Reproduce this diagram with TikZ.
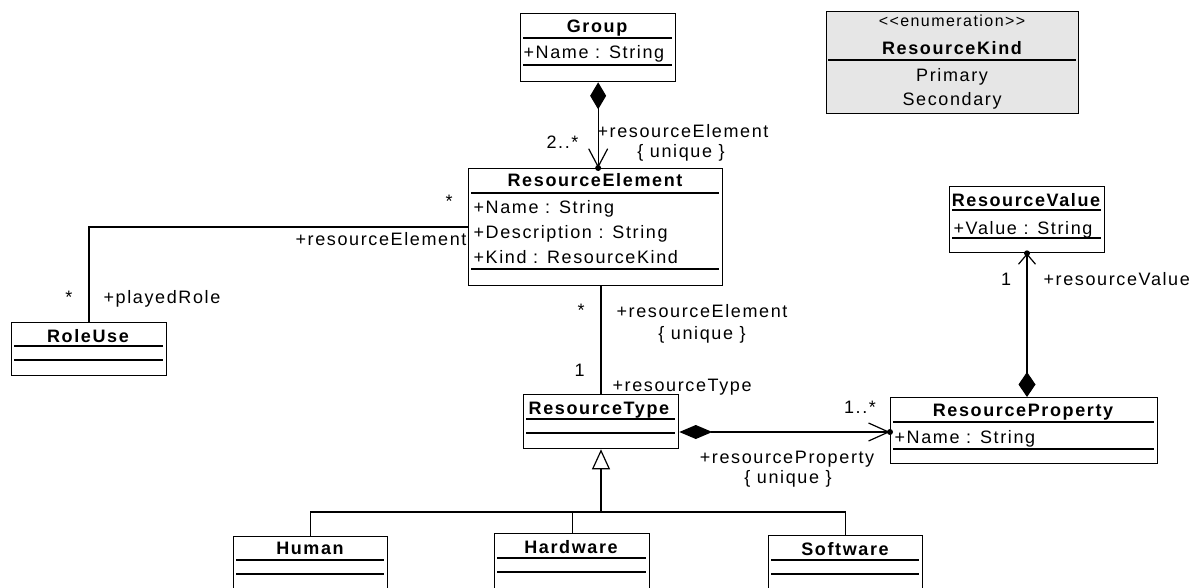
\documentclass[tikz,border=0pt]{standalone}
\usepackage{fontspec}
\setmainfont{Liberation Sans}
\newfontfamily\umlfont[LetterSpace=9]{Liberation Sans}
\usetikzlibrary{arrows.meta}
\definecolor{enumgray}{RGB}{230,230,230}
\begin{document}
\begin{tikzpicture}[x=1pt,y=-1pt,line width=1.2pt,
  box/.style={draw,line width=1.3pt,inner sep=0pt,anchor=north west},
  ttl/.style={font=\umlfont\bfseries\fontsize{18}{20}\selectfont,inner sep=0pt,anchor=base},
  attr/.style={font=\umlfont\fontsize{18}{20}\selectfont,inner sep=0pt,anchor=base west},
  lbl/.style={font=\umlfont\fontsize{18}{20}\selectfont,inner sep=0pt,anchor=base},
  sub/.style={font=\umlfont\bfseries\fontsize{18}{20}\selectfont,inner sep=0pt,anchor=base},
  comp/.style={{Diamond[fill=black,length=27pt,width=16pt]}-{Straight Barb[length=18pt,width=19pt]}},
  gen/.style={-{Triangle[open,fill=white,length=20pt,width=18pt]}},
  dot/.style={fill=black}
]
\clip (0,0) rectangle (1194,588);
\useasboundingbox (0,0) rectangle (1194,588);

% ---- Group
\node[box,minimum width=155pt,minimum height=68pt] (group) at (520,13) {};
\node[ttl] (groupT) at (597,33) {Group};
\draw (523,38) -- (672,38);
\node[attr] (groupA) at (523,59) {+Name : String};
\draw (523,65) -- (672,65);

% ---- Enumeration
\node[box,fill=enumgray,minimum width=252pt,minimum height=102pt] (enum) at (826,11) {};
\node[lbl,font=\umlfont\fontsize{16}{18}\selectfont] (enumS) at (952,27) {<{}<enumeration>{}>};
\node[ttl] (enumT) at (952,55) {ResourceKind};
\draw (828,60) -- (1076,60);
\node[lbl] (enumP) at (952,82) {Primary};
\node[lbl] (enumSec) at (952,106) {Secondary};

% ---- ResourceElement
\node[box,minimum width=254pt,minimum height=117pt] (re) at (468,168) {};
\node[ttl] (reT) at (595,187) {ResourceElement};
\draw (471,193) -- (719,193);
\node[attr] (reA1) at (473,214) {+Name : String};
\node[attr] (reA2) at (473,239) {+Description : String};
\node[attr] (reA3) at (473,263) {+Kind : ResourceKind};
\draw (471,269) -- (719,269);

% ---- RoleUse
\node[box,minimum width=155pt,minimum height=53pt] (role) at (11,322) {};
\node[ttl] (roleT) at (88,342) {RoleUse};
\draw (14,346) -- (163,346);
\draw (14,360) -- (163,360);

% ---- ResourceValue
\node[box,minimum width=155pt,minimum height=66pt] (rv) at (949,186) {};
\node[ttl] (rvT) at (1026,207) {ResourceValue};
\draw (952,210) -- (1101,210);
\node[attr] (rvA) at (953,234) {+Value : String};
\draw (952,238) -- (1101,238);

% ---- ResourceProperty
\node[box,minimum width=267pt,minimum height=66pt] (rp) at (890,397) {};
\node[ttl] (rpT) at (1023,416) {ResourceProperty};
\draw (893,422) -- (1154,422);
\node[attr] (rpA) at (894,443) {+Name : String};
\draw (893,449) -- (1154,449);

% ---- ResourceType
\node[box,minimum width=155pt,minimum height=54pt] (rt) at (523,394) {};
\node[ttl] (rtT) at (599,414) {ResourceType};
\draw (526,419) -- (675,419);
\draw (526,433) -- (675,433);

% ---- Subclasses
\node[box,minimum width=154pt,minimum height=70pt] (human) at (233,536) {};
\node[sub] (humanT) at (310,554) {Human};
\draw (236,560) -- (384,560);
\draw (236,574) -- (384,574);
\node[box,minimum width=155pt,minimum height=70pt] (hw) at (494,533) {};
\node[sub] (hwT) at (571,553) {Hardware};
\draw (497,558) -- (646,558);
\draw (497,572) -- (646,572);
\node[box,minimum width=154pt,minimum height=70pt] (sw) at (768,535) {};
\node[sub] (swT) at (845,555) {Software};
\draw (771,560) -- (919,560);
\draw (771,574) -- (919,574);

% ---- Group -> ResourceElement
\draw[comp] (group.south) -- (group.south |- re.north);
\fill[dot] (group.south |- re.north) circle (3pt);
\node[lbl,anchor=base east] (l1) at (579,149) {2..*};
\node[lbl,anchor=base west] (l2) at (597,138) {+resourceElement};
\node[lbl] (l3) at (681,158) {\{ unique \}};

% ---- RoleUse -- ResourceElement
\coordinate (bend) at (89,227);
\draw (role.north -| bend) -- (bend) -- (bend -| re.west);
\node[lbl] (l4) at (449,208) {*};
\node[lbl,anchor=base east] (l5) at (467,246) {+resourceElement};
\node[lbl] (l6) at (69,303) {*};
\node[lbl,anchor=base west] (l7) at (103,303) {+playedRole};

% ---- ResourceElement -- ResourceType
\coordinate (retx) at (601,0);
\draw (re.south -| retx) -- (rt.north -| retx);
\node[lbl] (l8) at (581,316) {*};
\node[lbl,anchor=base west] (l9) at (616,317) {+resourceElement};
\node[lbl] (l10) at (702,339) {\{ unique \}};
\node[lbl] (l11) at (579.5,376) {1};
\node[lbl,anchor=base west] (l12) at (612,391) {+resourceType};

% ---- ResourceType -> ResourceProperty
\coordinate (rty) at (0,432);
\draw[{Diamond[fill=black,length=33pt,width=14pt]}-{Straight Barb[length=20pt,width=18pt]}] (rt.east |- rty) -- (rp.west |- rty);
\fill[dot] (rp.west |- rty) circle (3pt);
\node[lbl] (l13) at (860,413) {1..*};
\node[lbl] (l14) at (787,463) {+resourceProperty};
\node[lbl] (l15) at (788,483) {\{ unique \}};

% ---- ResourceProperty -> ResourceValue
\coordinate (rpx) at (1027,0);
\draw[{Diamond[fill=black,length=25pt,width=17pt]}-{Straight Barb[length=10pt,width=17pt]}] (rp.north -| rpx) -- (rv.south -| rpx);
\fill[dot] (rv.south -| rpx) circle (3pt);
\node[lbl] (l16) at (1006,285) {1};
\node[lbl,anchor=base west] (l17) at (1043,285) {+resourceValue};

% ---- Generalization
\coordinate (gj) at (601,512);
\draw[gen] (gj) -- (gj |- rt.south);
\draw (human.north) |- (gj) -| (sw.north);
\draw (hw.north) -- (hw.north |- gj);
\end{tikzpicture}
\end{document}
